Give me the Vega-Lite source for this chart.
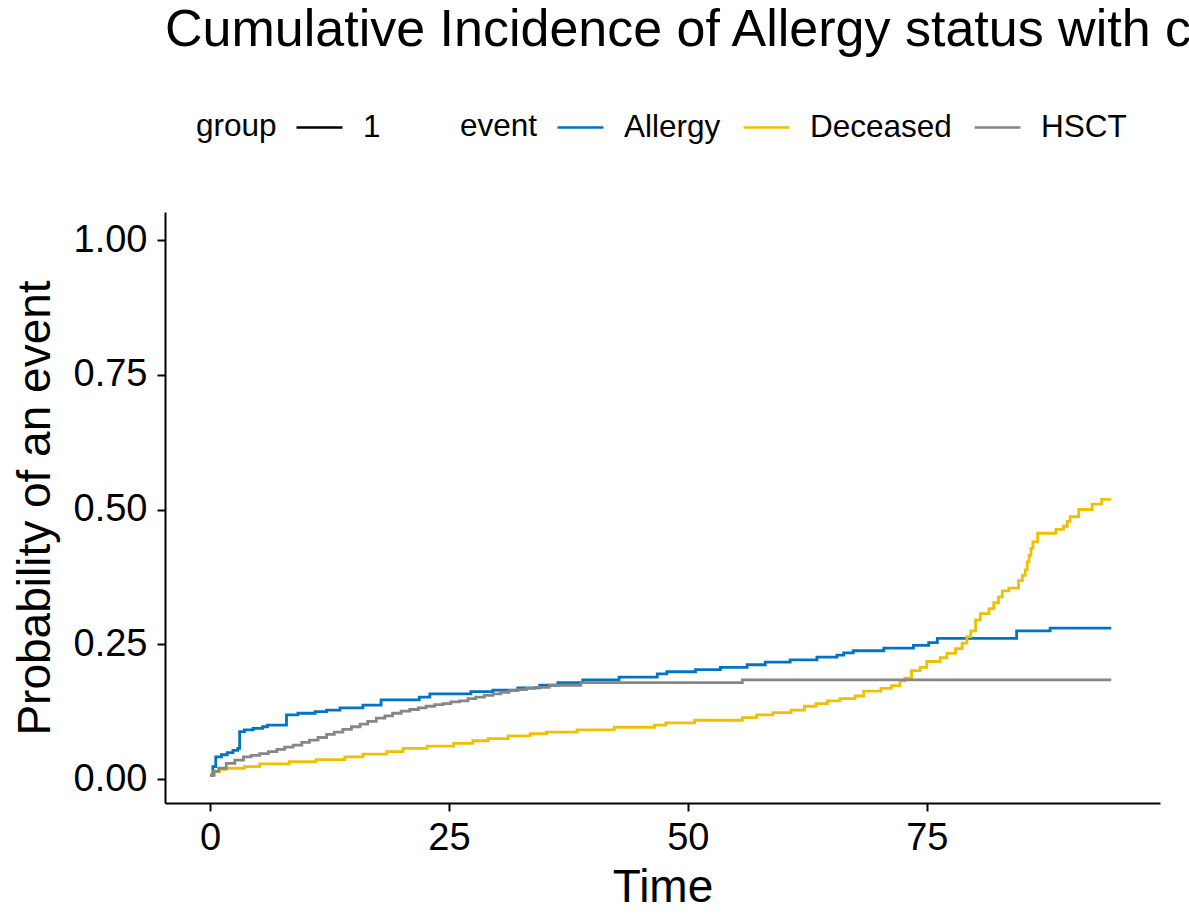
{
  "$schema": "https://vega.github.io/schema/vega-lite/v6.json",
  "autosize": {"type": "none"},
  "width": 995,
  "height": 591,
  "padding": {"left": 165, "top": 212, "right": 29, "bottom": 116},
  "background": "white",
  "title": {
    "text": "Cumulative Incidence of Allergy status with competing risks",
    "anchor": "start",
    "frame": "group",
    "font": "Liberation Sans",
    "fontSize": 52,
    "fontWeight": "normal",
    "color": "black",
    "offset": 10,
    "dy": -36
  },
  "datasets": {
    "cif": [
      {"event": "Allergy", "group": "1", "time": 0, "p": 0.007},
      {"event": "Allergy", "group": "1", "time": 0.3, "p": 0.023},
      {"event": "Allergy", "group": "1", "time": 0.6, "p": 0.041},
      {"event": "Allergy", "group": "1", "time": 1.2, "p": 0.045},
      {"event": "Allergy", "group": "1", "time": 1.8, "p": 0.049},
      {"event": "Allergy", "group": "1", "time": 2.4, "p": 0.053},
      {"event": "Allergy", "group": "1", "time": 2.9, "p": 0.057},
      {"event": "Allergy", "group": "1", "time": 3.1, "p": 0.088},
      {"event": "Allergy", "group": "1", "time": 3.6, "p": 0.091},
      {"event": "Allergy", "group": "1", "time": 4.5, "p": 0.094},
      {"event": "Allergy", "group": "1", "time": 5.5, "p": 0.097},
      {"event": "Allergy", "group": "1", "time": 6.0, "p": 0.1},
      {"event": "Allergy", "group": "1", "time": 8.0, "p": 0.119},
      {"event": "Allergy", "group": "1", "time": 9.2, "p": 0.122},
      {"event": "Allergy", "group": "1", "time": 11.0, "p": 0.125},
      {"event": "Allergy", "group": "1", "time": 12.2, "p": 0.128},
      {"event": "Allergy", "group": "1", "time": 13.6, "p": 0.132},
      {"event": "Allergy", "group": "1", "time": 16.0, "p": 0.137},
      {"event": "Allergy", "group": "1", "time": 17.9, "p": 0.147},
      {"event": "Allergy", "group": "1", "time": 21.9, "p": 0.152},
      {"event": "Allergy", "group": "1", "time": 23.0, "p": 0.158},
      {"event": "Allergy", "group": "1", "time": 27.3, "p": 0.162},
      {"event": "Allergy", "group": "1", "time": 29.6, "p": 0.165},
      {"event": "Allergy", "group": "1", "time": 32.2, "p": 0.169},
      {"event": "Allergy", "group": "1", "time": 34.5, "p": 0.174},
      {"event": "Allergy", "group": "1", "time": 36.4, "p": 0.179},
      {"event": "Allergy", "group": "1", "time": 39.0, "p": 0.184},
      {"event": "Allergy", "group": "1", "time": 42.8, "p": 0.189},
      {"event": "Allergy", "group": "1", "time": 46.8, "p": 0.195},
      {"event": "Allergy", "group": "1", "time": 47.8, "p": 0.199},
      {"event": "Allergy", "group": "1", "time": 50.8, "p": 0.203},
      {"event": "Allergy", "group": "1", "time": 53.4, "p": 0.207},
      {"event": "Allergy", "group": "1", "time": 56.2, "p": 0.212},
      {"event": "Allergy", "group": "1", "time": 58.1, "p": 0.217},
      {"event": "Allergy", "group": "1", "time": 60.7, "p": 0.221},
      {"event": "Allergy", "group": "1", "time": 63.5, "p": 0.226},
      {"event": "Allergy", "group": "1", "time": 65.6, "p": 0.23},
      {"event": "Allergy", "group": "1", "time": 66.3, "p": 0.234},
      {"event": "Allergy", "group": "1", "time": 67.3, "p": 0.238},
      {"event": "Allergy", "group": "1", "time": 70.5, "p": 0.243},
      {"event": "Allergy", "group": "1", "time": 73.6, "p": 0.248},
      {"event": "Allergy", "group": "1", "time": 75.2, "p": 0.253},
      {"event": "Allergy", "group": "1", "time": 76.1, "p": 0.261},
      {"event": "Allergy", "group": "1", "time": 84.4, "p": 0.275},
      {"event": "Allergy", "group": "1", "time": 87.9, "p": 0.28},
      {"event": "Allergy", "group": "1", "time": 94.3, "p": 0.28},

      {"event": "Deceased", "group": "1", "time": 0, "p": 0.007},
      {"event": "Deceased", "group": "1", "time": 0.5, "p": 0.014},
      {"event": "Deceased", "group": "1", "time": 1.0, "p": 0.018},
      {"event": "Deceased", "group": "1", "time": 1.7, "p": 0.02},
      {"event": "Deceased", "group": "1", "time": 3.6, "p": 0.023},
      {"event": "Deceased", "group": "1", "time": 5.2, "p": 0.028},
      {"event": "Deceased", "group": "1", "time": 8.3, "p": 0.032},
      {"event": "Deceased", "group": "1", "time": 11.1, "p": 0.036},
      {"event": "Deceased", "group": "1", "time": 14.1, "p": 0.041},
      {"event": "Deceased", "group": "1", "time": 16.0, "p": 0.046},
      {"event": "Deceased", "group": "1", "time": 18.5, "p": 0.051},
      {"event": "Deceased", "group": "1", "time": 20.2, "p": 0.057},
      {"event": "Deceased", "group": "1", "time": 22.7, "p": 0.061},
      {"event": "Deceased", "group": "1", "time": 25.5, "p": 0.066},
      {"event": "Deceased", "group": "1", "time": 27.5, "p": 0.071},
      {"event": "Deceased", "group": "1", "time": 29.1, "p": 0.075},
      {"event": "Deceased", "group": "1", "time": 31.2, "p": 0.08},
      {"event": "Deceased", "group": "1", "time": 33.5, "p": 0.084},
      {"event": "Deceased", "group": "1", "time": 35.2, "p": 0.087},
      {"event": "Deceased", "group": "1", "time": 38.4, "p": 0.091},
      {"event": "Deceased", "group": "1", "time": 42.3, "p": 0.096},
      {"event": "Deceased", "group": "1", "time": 46.5, "p": 0.1},
      {"event": "Deceased", "group": "1", "time": 47.7, "p": 0.104},
      {"event": "Deceased", "group": "1", "time": 50.7, "p": 0.109},
      {"event": "Deceased", "group": "1", "time": 55.7, "p": 0.114},
      {"event": "Deceased", "group": "1", "time": 57.2, "p": 0.119},
      {"event": "Deceased", "group": "1", "time": 58.9, "p": 0.123},
      {"event": "Deceased", "group": "1", "time": 60.8, "p": 0.128},
      {"event": "Deceased", "group": "1", "time": 62.2, "p": 0.135},
      {"event": "Deceased", "group": "1", "time": 63.4, "p": 0.14},
      {"event": "Deceased", "group": "1", "time": 64.6, "p": 0.145},
      {"event": "Deceased", "group": "1", "time": 65.9, "p": 0.149},
      {"event": "Deceased", "group": "1", "time": 67.5, "p": 0.154},
      {"event": "Deceased", "group": "1", "time": 68.4, "p": 0.163},
      {"event": "Deceased", "group": "1", "time": 70.2, "p": 0.168},
      {"event": "Deceased", "group": "1", "time": 71.3, "p": 0.173},
      {"event": "Deceased", "group": "1", "time": 72.2, "p": 0.182},
      {"event": "Deceased", "group": "1", "time": 72.7, "p": 0.187},
      {"event": "Deceased", "group": "1", "time": 73.4, "p": 0.201},
      {"event": "Deceased", "group": "1", "time": 74.3, "p": 0.207},
      {"event": "Deceased", "group": "1", "time": 75.0, "p": 0.218},
      {"event": "Deceased", "group": "1", "time": 76.4, "p": 0.225},
      {"event": "Deceased", "group": "1", "time": 77.1, "p": 0.233},
      {"event": "Deceased", "group": "1", "time": 78.0, "p": 0.242},
      {"event": "Deceased", "group": "1", "time": 78.7, "p": 0.252},
      {"event": "Deceased", "group": "1", "time": 79.2, "p": 0.264},
      {"event": "Deceased", "group": "1", "time": 79.6, "p": 0.275},
      {"event": "Deceased", "group": "1", "time": 80.1, "p": 0.295},
      {"event": "Deceased", "group": "1", "time": 80.6, "p": 0.307},
      {"event": "Deceased", "group": "1", "time": 81.5, "p": 0.316},
      {"event": "Deceased", "group": "1", "time": 82.0, "p": 0.327},
      {"event": "Deceased", "group": "1", "time": 82.5, "p": 0.338},
      {"event": "Deceased", "group": "1", "time": 82.9, "p": 0.349},
      {"event": "Deceased", "group": "1", "time": 83.6, "p": 0.354},
      {"event": "Deceased", "group": "1", "time": 84.6, "p": 0.368},
      {"event": "Deceased", "group": "1", "time": 85.0, "p": 0.378},
      {"event": "Deceased", "group": "1", "time": 85.3, "p": 0.388},
      {"event": "Deceased", "group": "1", "time": 85.5, "p": 0.403},
      {"event": "Deceased", "group": "1", "time": 85.7, "p": 0.415},
      {"event": "Deceased", "group": "1", "time": 85.9, "p": 0.428},
      {"event": "Deceased", "group": "1", "time": 86.1, "p": 0.44},
      {"event": "Deceased", "group": "1", "time": 86.6, "p": 0.456},
      {"event": "Deceased", "group": "1", "time": 88.5, "p": 0.463},
      {"event": "Deceased", "group": "1", "time": 89.3, "p": 0.469},
      {"event": "Deceased", "group": "1", "time": 89.7, "p": 0.478},
      {"event": "Deceased", "group": "1", "time": 90.0, "p": 0.487},
      {"event": "Deceased", "group": "1", "time": 90.9, "p": 0.5},
      {"event": "Deceased", "group": "1", "time": 92.3, "p": 0.51},
      {"event": "Deceased", "group": "1", "time": 93.3, "p": 0.519},
      {"event": "Deceased", "group": "1", "time": 94.3, "p": 0.519},

      {"event": "HSCT", "group": "1", "time": 0, "p": 0.007},
      {"event": "HSCT", "group": "1", "time": 0.35, "p": 0.014},
      {"event": "HSCT", "group": "1", "time": 0.9, "p": 0.02},
      {"event": "HSCT", "group": "1", "time": 1.7, "p": 0.029},
      {"event": "HSCT", "group": "1", "time": 2.6, "p": 0.035},
      {"event": "HSCT", "group": "1", "time": 3.5, "p": 0.041},
      {"event": "HSCT", "group": "1", "time": 4.3, "p": 0.044},
      {"event": "HSCT", "group": "1", "time": 5.2, "p": 0.047},
      {"event": "HSCT", "group": "1", "time": 6.1, "p": 0.051},
      {"event": "HSCT", "group": "1", "time": 7.0, "p": 0.055},
      {"event": "HSCT", "group": "1", "time": 7.8, "p": 0.059},
      {"event": "HSCT", "group": "1", "time": 8.7, "p": 0.063},
      {"event": "HSCT", "group": "1", "time": 9.6, "p": 0.068},
      {"event": "HSCT", "group": "1", "time": 10.4, "p": 0.072},
      {"event": "HSCT", "group": "1", "time": 11.3, "p": 0.077},
      {"event": "HSCT", "group": "1", "time": 12.2, "p": 0.083},
      {"event": "HSCT", "group": "1", "time": 13.0, "p": 0.087},
      {"event": "HSCT", "group": "1", "time": 13.9, "p": 0.092},
      {"event": "HSCT", "group": "1", "time": 14.8, "p": 0.097},
      {"event": "HSCT", "group": "1", "time": 15.7, "p": 0.102},
      {"event": "HSCT", "group": "1", "time": 16.5, "p": 0.107},
      {"event": "HSCT", "group": "1", "time": 17.4, "p": 0.113},
      {"event": "HSCT", "group": "1", "time": 18.3, "p": 0.117},
      {"event": "HSCT", "group": "1", "time": 19.1, "p": 0.122},
      {"event": "HSCT", "group": "1", "time": 20.0, "p": 0.126},
      {"event": "HSCT", "group": "1", "time": 20.9, "p": 0.129},
      {"event": "HSCT", "group": "1", "time": 21.8, "p": 0.132},
      {"event": "HSCT", "group": "1", "time": 22.6, "p": 0.135},
      {"event": "HSCT", "group": "1", "time": 23.5, "p": 0.138},
      {"event": "HSCT", "group": "1", "time": 24.4, "p": 0.14},
      {"event": "HSCT", "group": "1", "time": 25.2, "p": 0.143},
      {"event": "HSCT", "group": "1", "time": 26.1, "p": 0.145},
      {"event": "HSCT", "group": "1", "time": 27.0, "p": 0.149},
      {"event": "HSCT", "group": "1", "time": 27.8, "p": 0.152},
      {"event": "HSCT", "group": "1", "time": 28.7, "p": 0.155},
      {"event": "HSCT", "group": "1", "time": 29.6, "p": 0.158},
      {"event": "HSCT", "group": "1", "time": 30.4, "p": 0.161},
      {"event": "HSCT", "group": "1", "time": 31.3, "p": 0.164},
      {"event": "HSCT", "group": "1", "time": 32.2, "p": 0.166},
      {"event": "HSCT", "group": "1", "time": 33.1, "p": 0.168},
      {"event": "HSCT", "group": "1", "time": 34.0, "p": 0.17},
      {"event": "HSCT", "group": "1", "time": 35.5, "p": 0.174},
      {"event": "HSCT", "group": "1", "time": 38.8, "p": 0.179},
      {"event": "HSCT", "group": "1", "time": 55.7, "p": 0.184},
      {"event": "HSCT", "group": "1", "time": 94.3, "p": 0.184}
    ]
  },
  "data": {"name": "cif"},
  "mark": {"type": "line", "interpolate": "step-after", "strokeWidth": 2.8},
  "encoding": {
    "x": {
      "field": "time",
      "type": "quantitative",
      "scale": {"domain": [-4.71, 99.4], "nice": false, "zero": false},
      "axis": {
        "values": [0, 25, 50, 75],
        "title": "Time",
        "labelFontSize": 38,
        "titleFontSize": 46,
        "labelPadding": 8,
        "titlePadding": 8
      }
    },
    "y": {
      "field": "p",
      "type": "quantitative",
      "scale": {"domain": [-0.0445, 1.052], "nice": false, "zero": false},
      "axis": {
        "values": [0, 0.25, 0.5, 0.75, 1],
        "format": ".2f",
        "title": "Probability of an event",
        "labelFontSize": 38,
        "titleFontSize": 46,
        "labelPadding": 10,
        "titlePadding": 14
      }
    },
    "color": {
      "field": "event",
      "type": "nominal",
      "scale": {"domain": ["Allergy", "Deceased", "HSCT"], "range": ["#0073C2", "#EFC000", "#868686"]},
      "legend": {
        "title": "event",
        "orient": "none",
        "legendX": 295,
        "legendY": -109,
        "direction": "horizontal",
        "titleOrient": "left",
        "titleAnchor": "end",
        "symbolType": "stroke",
        "symbolSize": 2116,
        "symbolStrokeWidth": 2.5,
        "labelOffset": 19,
        "titlePadding": 18,
        "columnPadding": 17
      }
    },
    "strokeDash": {
      "field": "group",
      "type": "nominal",
      "legend": {
        "title": "group",
        "orient": "none",
        "legendX": 31,
        "legendY": -109,
        "direction": "horizontal",
        "titleOrient": "left",
        "titleAnchor": "end",
        "symbolType": "stroke",
        "symbolSize": 2116,
        "symbolStrokeWidth": 2.5,
        "symbolStrokeColor": "black",
        "labelOffset": 19,
        "titlePadding": 18,
        "columnPadding": 17
      }
    }
  },
  "config": {
    "view": {"stroke": null},
    "font": "Liberation Sans",
    "axis": {
      "grid": false,
      "domainColor": "black",
      "domainWidth": 2,
      "tickColor": "black",
      "tickWidth": 2,
      "tickSize": 8,
      "labelColor": "black",
      "titleColor": "black",
      "labelFont": "Liberation Sans",
      "titleFont": "Liberation Sans",
      "titleFontWeight": "normal"
    },
    "legend": {
      "titleFont": "Liberation Sans",
      "labelFont": "Liberation Sans",
      "titleFontSize": 31.5,
      "labelFontSize": 31.5,
      "titleFontWeight": "normal",
      "titleColor": "black",
      "labelColor": "black",
      "labelLimit": 400
    }
  }
}
